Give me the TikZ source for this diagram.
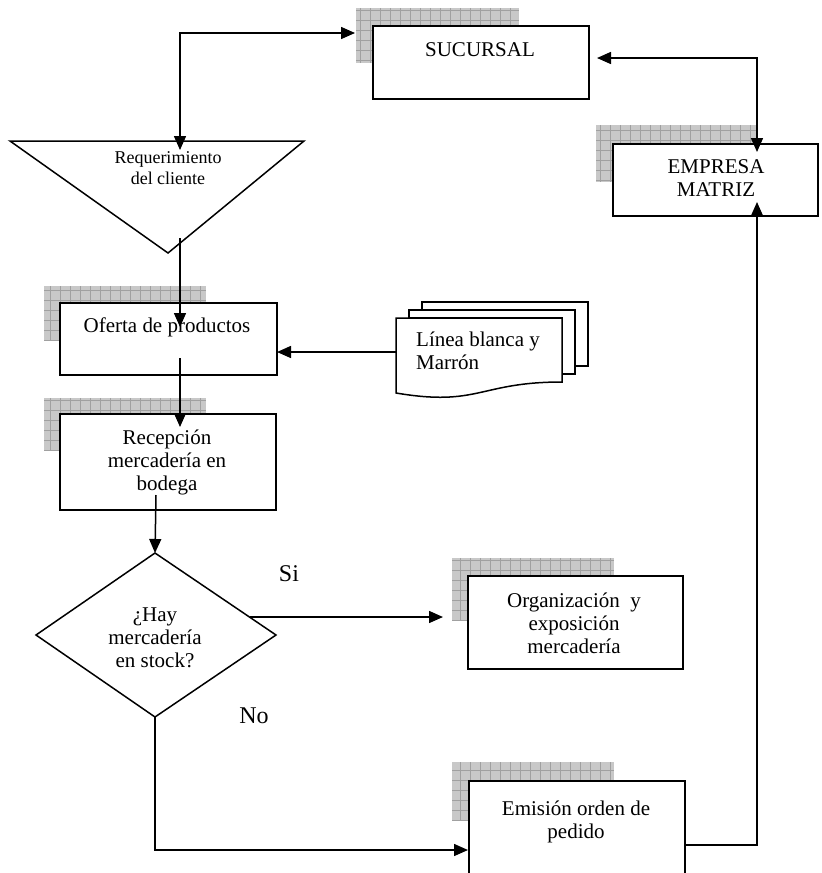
\documentclass[tikz,border=0pt]{standalone}
\usepackage{fontspec}
\setmainfont{Liberation Serif}
\usetikzlibrary{arrows.meta,calc}

\definecolor{shadefill}{RGB}{200,200,200}
\definecolor{shadegrid}{RGB}{160,160,160}

\tikzset{
  box/.style={draw=black, line width=1.8pt, fill=white, rectangle, inner sep=0pt, anchor=north west},
  lbl/.style={align=center, inner sep=0pt, font=\fontsize{21}{23}\selectfont},
  smalllbl/.style={align=center, inner sep=0pt, font=\fontsize{18}{21}\selectfont},
  biglbl/.style={inner sep=0pt, font=\fontsize{24}{26}\selectfont},
  outline/.style={draw=black, line width=1.5pt},
  flow/.style={line width=1.5pt, -{Triangle[length=14pt,width=12pt]}},
  twoway/.style={line width=1.5pt, {Triangle[length=14pt,width=12pt]}-{Triangle[length=14pt,width=12pt]}},
}

% grey checkered shadow behind a text box
\newcommand\shadowpatch[2]{%
  \fill[shadefill] #1 rectangle #2;
  \draw[shadegrid, line width=0.6pt, step=10pt] #1 grid #2;
}

\begin{document}
\begin{tikzpicture}[x=1pt,y=-1pt]
\useasboundingbox (0,0) rectangle (822,873);
\clip (0,0) rectangle (822,873);

% shadows
\shadowpatch{(356,8)}{(519,63)}
\shadowpatch{(596,125)}{(758,182)}
\shadowpatch{(44,286)}{(206,340)}
\shadowpatch{(44,398)}{(206,450)}
\shadowpatch{(452,558)}{(614,620)}
\shadowpatch{(452,762)}{(614,820)}

% boxes
\node[box, minimum width=216pt, minimum height=73pt] (suc) at (372,25) {};
\node[box, minimum width=205pt, minimum height=72pt] (emp) at (612,143) {};
\node[box, minimum width=217pt, minimum height=72pt] (ofe) at (59,302) {};
\node[box, minimum width=216pt, minimum height=96pt] (rec) at (59,413) {};
\node[box, minimum width=215pt, minimum height=93pt] (org) at (467,575) {};
\node[box, minimum width=216pt, minimum height=110pt] (emi) at (468,780) {};

\node[lbl] (suc-t) at (480,50) {SUCURSAL};
\node[lbl] (emp-t) at (716,178) {EMPRESA\\MATRIZ};
\node[lbl] (ofe-t) at (167,327) {Oferta de productos};
\node[lbl] (rec-t) at (167,462) {Recepción\\mercadería en\\bodega};
\node[lbl] (org-t) at (574,623) {Organización\ \ y\\exposición\\mercadería};
\node[lbl] (emi-t) at (576,822) {Emisión orden de\\pedido};

% inverted triangle
\coordinate (triL) at (10,141);
\coordinate (triR) at (304,141);
\coordinate (triB) at (168,253);
\draw[outline, fill=white] (triL) -- (triR) -- (triB) -- cycle;
\node[smalllbl] (req-t) at (168,168) {Requerimiento\\del cliente};

% decision diamond
\coordinate (diaN) at (155,553);
\coordinate (diaE) at (276,635);
\coordinate (diaS) at (155,717);
\coordinate (diaW) at (36,635);
\draw[outline, fill=white] (diaN) -- (diaE) -- (diaS) -- (diaW) -- cycle;
\node[lbl] (dia-t) at (155,638) {¿Hay\\mercadería\\en stock?};

% stacked documents
\begin{scope}[outline, fill=white]
  \filldraw (422,302) -- (588,302) -- (588,366) -- (575,366) -- (575,310) -- (422,310) -- cycle;
  \filldraw (409,310) -- (575,310) -- (575,374) -- (562,374) -- (562,318) -- (409,318) -- cycle;
  \filldraw (396,318) -- (562,318) -- (562,382)
     .. controls (479,382) and (479,407) .. (396,393) -- cycle;
\end{scope}
\node[lbl, align=left, anchor=west] (doc-t) at (416,351) {Línea blanca y\\Marrón};
\coordinate (docW) at (396,352);

% connector end points
\coordinate (reqTop) at (180,150);
\coordinate (sucIn) at (355,33);
\coordinate (triOut) at (180,238);
\coordinate (ofeIn) at (180,327);
\coordinate (ofeOut) at (180,358);
\coordinate (recIn) at (180,427);
\coordinate (recOut) at (156,495);
\coordinate (diaOut) at (250,617);
\coordinate (orgIn) at (443,617);
\coordinate (emiIn) at (468,850);
\coordinate (emiOut) at (684,845);
\coordinate (empBot) at (757,202);
\coordinate (sucOut) at (597,58);
\coordinate (empTop) at (757,152);
\coordinate (ofeE) at (277,352);

% connectors
\draw[twoway] (reqTop) |- (sucIn);
\draw[twoway] (sucOut) -| (empTop);
\draw[flow] (triOut) -- (ofeIn);
\draw[flow] (docW) -- (ofeE);
\draw[flow] (ofeOut) -- (recIn);
\draw[flow] (recOut) -- (diaN);
\draw[flow] (diaOut) -- (orgIn);
\draw[flow] (diaS) |- (emiIn);
\draw[flow] (emiOut) -| (empBot);

\node[biglbl] (si) at (289,574) {Si};
\node[biglbl] (no) at (254,716) {No};
\end{tikzpicture}
\end{document}
